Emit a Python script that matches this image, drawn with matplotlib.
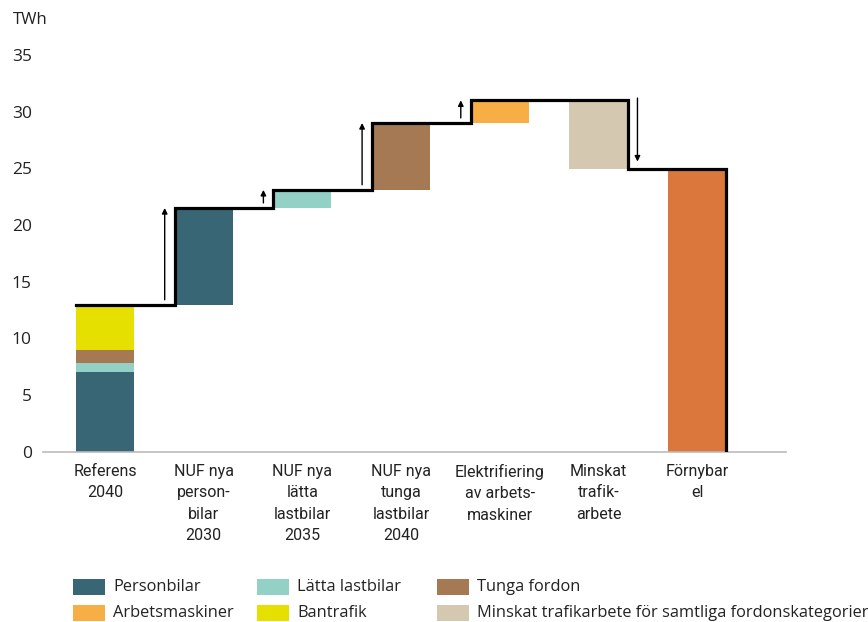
import matplotlib
matplotlib.use("Agg")
import matplotlib.pyplot as plt
from matplotlib.patches import Rectangle

# Categories along the x axis
categories = [
    "Referens\n2040",
    "NUF nya\nperson-\nbilar\n2030",
    "NUF nya\nlätta\nlastbilar\n2035",
    "NUF nya\ntunga\nlastbilar\n2040",
    "Elektrifiering\nav arbets-\nmaskiner",
    "Minskat\ntrafik-\narbete",
    "Förnybar\nel",
]

# Reference 2040 stack (TWh)
ref_labels = ["Personbilar", "Lätta lastbilar", "Tunga fordon", "Bantrafik"]
ref_values = [7.05, 0.75, 1.2, 3.95]

# Changes relative to the previous level (TWh)
step_labels = ["Personbilar", "Lätta lastbilar", "Tunga fordon", "Arbetsmaskiner",
               "Minskat trafikarbete för samtliga fordonskategorier"]
step_values = [8.55, 1.6, 5.9, 2.0, -6.1]

colors = {
    "Personbilar": "#386674",
    "Lätta lastbilar": "#93d0c6",
    "Tunga fordon": "#a67955",
    "Arbetsmaskiner": "#f6ae45",
    "Bantrafik": "#e6e000",
    "Minskat trafikarbete för samtliga fordonskategorier": "#d4c8b0",
    "Förnybar el": "#db763d",
}

legend_order = ["Personbilar", "Lätta lastbilar", "Tunga fordon",
                "Arbetsmaskiner", "Bantrafik",
                "Minskat trafikarbete för samtliga fordonskategorier"]

yticks = [0, 5, 10, 15, 20, 25, 30, 35]

W, H = 868, 622
fig = plt.figure(figsize=(W / 100, H / 100), dpi=100)
ax = fig.add_axes([43 / W, (H - 451.7) / H, 743 / W, (451.7 - 55) / H])

bw = 0.59
n = len(categories)

# Reference stack
bottom = 0.0
for lab, v in zip(ref_labels, ref_values):
    ax.bar(0, v, bottom=bottom, width=bw, color=colors[lab], linewidth=0)
    bottom += v
levels = [bottom]

# Floating change bars
for i, (lab, d) in enumerate(zip(step_labels, step_values), start=1):
    prev = levels[-1]
    new = prev + d
    ax.bar(i, d, bottom=prev, width=bw, color=colors[lab], linewidth=0)
    levels.append(new)

# Final total bar
final = levels[-1]
ax.bar(n - 1, final, width=bw, color=colors["Förnybar el"], linewidth=0)

# Step outline
xs = [0 - bw / 2]
ys = [levels[0]]
for i in range(1, len(levels)):
    prev, new = levels[i - 1], levels[i]
    if new >= prev:
        xe = i - bw / 2
    else:
        xe = i + bw / 2
    xs += [xe, xe]
    ys += [prev, new]
xs += [n - 1 + bw / 2, n - 1 + bw / 2]
ys += [final, 0]
ax.plot(xs, ys, color="black", lw=2.3, solid_joinstyle="miter", zorder=5)

# Arrows showing direction of each change
for i in range(1, len(levels)):
    prev, new = levels[i - 1], levels[i]
    if new >= prev:
        xa = i - bw / 2 - 0.1
        y0, y1 = prev + 0.45, new
    else:
        xa = i + bw / 2 + 0.1
        y0, y1 = prev + 0.2, new + 0.7
    ax.annotate("", xy=(xa, y1), xytext=(xa, y0),
                arrowprops=dict(arrowstyle="-|>", lw=1.0, color="black",
                                mutation_scale=8, shrinkA=0, shrinkB=0))

ax.set_xlim(-0.628, 6.9)
ax.set_ylim(0, 35)
ax.set_yticks(yticks)
ax.set_yticklabels([str(t) for t in yticks], family=["Open Sans", "DejaVu Sans"], fontsize=12.5)
ax.set_xticks(range(n))
ax.set_xticklabels(categories, family=["Roboto", "DejaVu Sans"],
                   fontsize=11.5, linespacing=1.52)
ax.tick_params(axis="y", length=0, pad=8, colors="#222222")
ax.tick_params(axis="x", length=0, pad=9, colors="#222222")
for s in ["top", "right", "left"]:
    ax.spines[s].set_visible(False)
ax.spines["bottom"].set_color("#bbbbbb")
ax.spines["bottom"].set_linewidth(1.2)

fig.text(13 / W, 1 - 20 / H, "TWh", ha="left", va="center",
         family=["Open Sans", "DejaVu Sans"], fontsize=12, color="#222222")

# Legend drawn in figure pixel space
col_x = [73, 257, 437]
row_y = [587, 613]
for k, lab in enumerate(legend_order):
    r, c = divmod(k, 3)
    x0, yc = col_x[c], row_y[r]
    fig.add_artist(Rectangle((x0 / W, 1 - (yc + 8) / H), 32 / W, 16 / H,
                             transform=fig.transFigure, color=colors[lab], lw=0))
    fig.text((x0 + 40) / W, 1 - yc / H, lab, ha="left", va="center",
             family=["Open Sans", "DejaVu Sans"], fontsize=11.8, color="#222222")

fig.savefig("out.png", dpi=100)
